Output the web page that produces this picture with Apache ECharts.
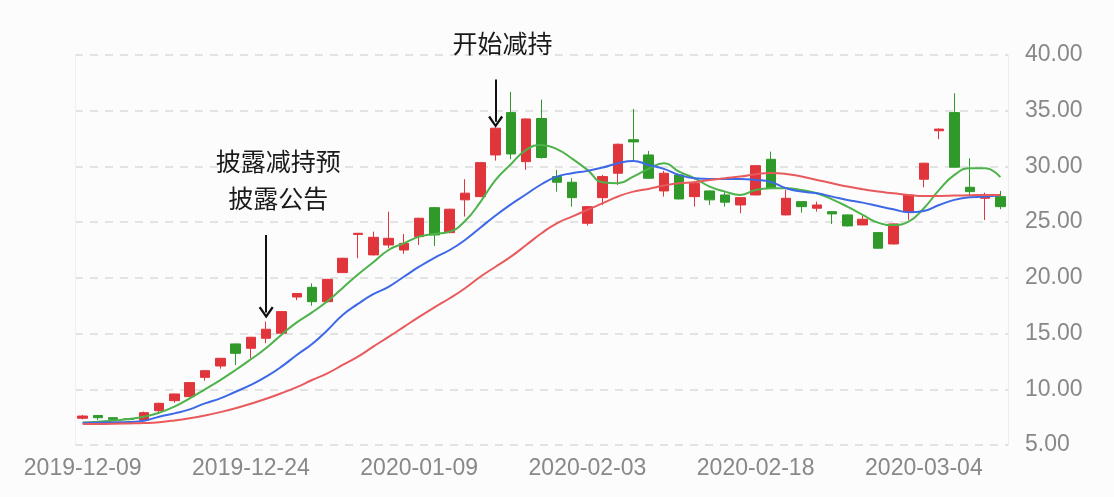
<!DOCTYPE html>
<html>
<head>
<meta charset="utf-8">
<script src="https://cdn.jsdelivr.net/npm/echarts@6/dist/echarts.min.js"></script>
<style>
html,body{margin:0;padding:0;background:#fcfcfc;}
#main{width:1114px;height:497px;}
</style>
</head>
<body>
<div id="main"></div>
<script>
// trading dates
const dates = [
 '2019-12-09','2019-12-10','2019-12-11','2019-12-12','2019-12-13','2019-12-16','2019-12-17','2019-12-18','2019-12-19','2019-12-20',
 '2019-12-23','2019-12-24','2019-12-25','2019-12-26','2019-12-27','2019-12-30','2019-12-31','2020-01-02','2020-01-03','2020-01-06',
 '2020-01-07','2020-01-08','2020-01-09','2020-01-10','2020-01-13','2020-01-14','2020-01-15','2020-01-16','2020-01-17','2020-01-20',
 '2020-01-21','2020-01-22','2020-01-23','2020-02-03','2020-02-04','2020-02-05','2020-02-06','2020-02-07','2020-02-10','2020-02-11',
 '2020-02-12','2020-02-13','2020-02-14','2020-02-17','2020-02-18','2020-02-19','2020-02-20','2020-02-21','2020-02-24','2020-02-25',
 '2020-02-26','2020-02-27','2020-02-28','2020-03-02','2020-03-03','2020-03-04','2020-03-05','2020-03-06','2020-03-09','2020-03-10',
 '2020-03-11'
];
// [open, close, low, high]
const ohlc = [
 [7.40,7.60,7.30,7.70],[7.65,7.45,7.25,7.65],[7.45,7.30,7.25,7.50],[7.35,7.28,7.22,7.38],[7.25,7.90,7.20,8.00],
 [8.08,8.74,7.84,8.80],[8.98,9.58,8.80,9.60],[9.34,10.60,9.30,10.65],[11.07,11.67,10.77,11.70],[12.09,12.78,11.85,12.80],
 [14.07,13.23,12.18,14.10],[13.68,14.67,12.78,14.70],[14.58,15.39,14.13,16.07],[15.03,16.97,15.00,17.00],[18.28,18.60,18.00,18.62],
 [19.15,17.86,17.50,19.50],[17.86,19.87,17.80,19.90],[20.47,21.76,20.45,21.80],[23.90,24.00,21.76,24.00],[22.06,23.64,22.00,24.15],
 [22.95,23.55,22.66,25.94],[22.50,23.10,22.15,23.94],[23.70,25.35,22.95,25.40],[26.30,23.85,22.86,26.35],[24.06,26.16,24.00,26.20],
 [27.00,27.60,25.50,28.85],[27.29,30.34,27.25,30.40],[31.03,33.43,30.52,33.50],[34.83,31.12,30.65,36.70],[30.43,34.26,29.69,34.30],
 [34.30,30.80,30.70,36.00],[29.09,28.58,27.74,29.69],[28.58,27.20,26.39,28.94],[24.90,26.39,24.69,26.45],[27.20,29.09,26.54,29.24],
 [29.39,31.99,28.34,32.05],[32.40,32.20,30.50,35.16],[31.03,28.94,28.90,31.39],[27.80,29.39,27.29,29.60],[29.24,27.08,27.05,29.30],
 [27.29,28.49,26.39,28.70],[27.80,27.00,26.54,27.85],[27.44,26.79,26.39,27.68],[26.54,27.20,25.80,27.25],[27.44,30.07,27.40,30.10],
 [30.64,28.04,28.00,31.33],[25.65,27.14,25.60,27.89],[26.84,26.39,25.85,26.86],[26.25,26.54,25.94,26.84],[25.94,25.74,24.84,25.96],
 [25.65,24.66,24.62,25.68],[24.75,25.26,24.72,25.65],[24.06,22.66,22.62,24.10],[23.04,24.84,23.00,24.88],[25.94,27.44,25.20,27.48],
 [28.85,30.29,28.13,30.33],[33.20,33.35,32.45,33.40],[34.83,29.93,29.90,36.57],[28.13,27.74,27.44,30.73],[27.14,27.44,25.20,27.65],
 [27.29,26.39,26.16,27.80]
];
const ma5 = [
 7.00,7.09,7.18,7.33,7.54,7.90,8.44,9.19,10.00,10.83,
 11.73,12.69,13.70,14.90,16.00,16.90,17.90,19.10,20.30,21.40,
 22.50,23.10,23.70,23.94,24.15,25.10,26.80,28.80,30.20,31.48,
 31.93,31.55,30.70,29.69,28.58,28.49,29.09,29.78,30.29,29.53,
 28.94,28.19,27.74,27.44,27.89,28.04,28.04,27.89,27.59,27.05,
 26.39,25.65,24.96,24.75,25.05,26.25,27.89,29.24,29.84,29.84,
 29.03
];
const ma10 = [
 7.00,7.00,7.03,7.06,7.18,7.54,7.84,8.20,8.74,9.19,
 9.78,10.39,11.13,12.03,13.08,14.07,15.30,16.67,17.66,18.53,
 19.20,20.10,21.00,21.80,22.50,23.40,24.50,25.60,26.60,27.50,
 28.40,29.09,29.39,29.60,29.90,30.29,30.49,30.13,29.78,29.24,
 28.94,28.88,28.88,28.88,28.79,28.60,28.04,27.74,27.59,27.29,
 26.99,26.75,26.45,26.16,25.89,26.00,26.54,27.00,27.23,27.29,
 27.44
];
const ma20 = [
 6.88,6.89,6.90,6.93,6.97,7.05,7.20,7.40,7.65,7.95,
 8.30,8.70,9.15,9.65,10.20,10.83,11.43,12.18,12.93,13.83,
 14.70,15.60,16.50,17.35,18.17,19.07,20.10,21.00,21.90,22.95,
 24.00,24.90,25.50,26.10,26.70,27.30,27.74,27.98,28.28,28.49,
 28.58,28.79,28.94,29.09,29.30,29.42,29.33,29.09,28.79,28.49,
 28.19,27.95,27.74,27.59,27.44,27.35,27.35,27.38,27.41,27.44,
 27.44
];
const yTicks = { min: 5, max: 40, step: 5 };
const notes = [
 { idx: 27, from: 37.8, to: 34.0, text: '开始减持' },
 { idx: 12, from: 23.85, to: 16.9, text: '披露减持预\n披露公告' }
];

const chevron = 'path://M5,0 L10,7.2 L8.7,8.2 L5,2.6 L1.3,8.2 L0,7.2 Z';
const chart = echarts.init(document.getElementById('main'), null, { renderer: 'canvas' });
const lineSeries = (name, data, color) => ({
  name, type: 'line', data, smooth: true, symbol: 'none',
  lineStyle: { color, width: 2 }, itemStyle: { color }, z: 3
});
const axisFont = { color: '#888888', fontSize: 23, fontFamily: 'Liberation Sans' };
chart.setOption({
  backgroundColor: '#fcfcfc',
  animation: false,
  grid: { left: 75, right: 106, top: 55, bottom: 52 },
  xAxis: {
    type: 'category', data: dates, boundaryGap: true,
    axisLine: { show: false }, axisTick: { show: false },
    axisLabel: Object.assign({ interval: 10, margin: 12 }, axisFont),
    splitLine: { show: false }
  },
  yAxis: [{
    type: 'value', position: 'right', min: yTicks.min, max: yTicks.max, interval: yTicks.step,
    axisLine: { show: true, lineStyle: { color: '#ececec', width: 1 } }, axisTick: { show: false },
    axisLabel: Object.assign({ margin: 17, formatter: v => v.toFixed(2) }, axisFont),
    splitLine: { show: true, lineStyle: { color: '#dadada', width: 1.5, type: [8, 7] } }
  }, {
    type: 'value', position: 'left', min: yTicks.min, max: yTicks.max, interval: yTicks.step,
    axisLine: { show: true, lineStyle: { color: '#f0f0f0', width: 1 } }, axisTick: { show: false },
    axisLabel: { show: false }, splitLine: { show: false }
  }],
  series: [
    {
      type: 'candlestick', data: ohlc, barWidth: 10,
      itemStyle: { color: '#e0353b', color0: '#2f9a2a', borderColor: '#e0353b', borderColor0: '#2f9a2a', borderWidth: 1 },
      markLine: {
        silent: true, animation: false,
        symbol: ['none', chevron], symbolSize: [15, 12],
        lineStyle: { color: '#111111', width: 2, type: 'solid' },
        label: { show: true },
        data: notes.map((n, k) => [
          { coord: [dates[n.idx], n.from],
            label: { show: true, position: 'start', formatter: n.text, color: '#1a1a1a', fontSize: 25,
              fontFamily: 'Noto Sans CJK SC', lineHeight: 37, distance: 18, offset: k === 0 ? [7, 0] : [12, 0] } },
          { coord: [dates[n.idx], n.to] }
        ])
      }
    },
    lineSeries('MA5', ma5, '#4db34a'),
    lineSeries('MA10', ma10, '#3d68e6'),
    lineSeries('MA20', ma20, '#e85a5c')
  ]
});
</script>
</body>
</html>
